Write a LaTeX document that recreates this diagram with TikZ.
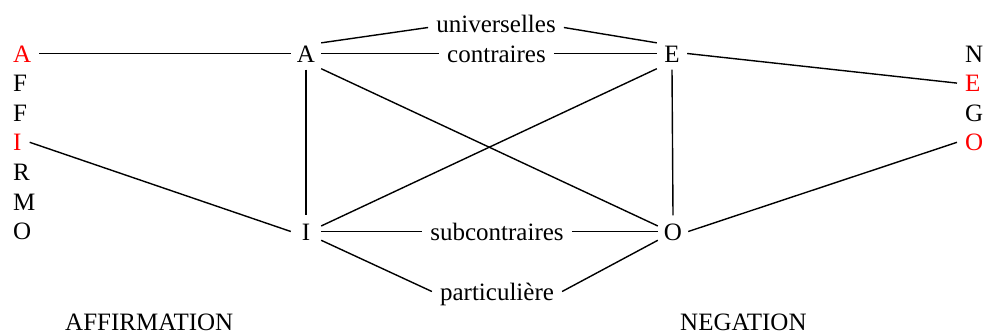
\documentclass[tikz,border=0pt]{standalone}
\usepackage{fontspec}
\setmainfont{Liberation Serif}
\begin{document}
\begin{tikzpicture}[x=1pt,y=-1pt,
  txt/.style={font=\fontsize{25}{30}\selectfont, text height=17pt, text depth=0pt, inner ysep=0pt},
  letter/.style={txt, inner xsep=8pt, anchor=base west},
  vert/.style={txt, rectangle, minimum width=30pt, minimum height=32pt, inner sep=0pt, anchor=base},
  lab/.style={txt, inner xsep=8pt, anchor=base},
  conn/.style={line width=1.4pt}]
\useasboundingbox (0,0) rectangle (984,335);
% left column
\node[letter, text=red] (lA) at (5,62) {A};
\node[letter] (lF1) at (5,91.6) {F};
\node[letter] (lF2) at (5,121.2) {F};
\node[letter, text=red] (lI) at (5,150.8) {I};
\node[letter] (lR) at (5,180.4) {R};
\node[letter] (lM) at (5,210) {M};
\node[letter] (lO) at (5,239.6) {O};
% right column
\node[letter] (rN) at (957,62) {N};
\node[letter, text=red] (rE) at (957,91.6) {E};
\node[letter] (rG) at (957,121.2) {G};
\node[letter, text=red] (rO) at (957,150.8) {O};
% vertices
\node[vert] (A) at (306,62) {A};
\node[vert] (E) at (672,62) {E};
\node[vert] (I) at (306,240) {I};
\node[vert] (O) at (673,240) {O};
% labels
\node[lab] (univ) at (496,32) {universelles};
\node[lab] (contr) at (496.5,62) {contraires};
\node[lab] (sub) at (497,240) {subcontraires};
\node[lab] (part) at (497,300) {particulière};
\node[txt, inner sep=0pt, anchor=base west] (aff) at (65,330) {AFFIRMATION};
\node[txt, inner sep=0pt, anchor=base west] (neg) at (680,330) {NEGATION};
% connectors
\draw[conn] (lA.east) -- (A.west);
\draw[conn] (lI.east) -- (I.west);
\draw[conn] (E.east) -- (rE.west);
\draw[conn] (O.east) -- (rO.west);
\draw[conn] (A.35) -- ([yshift=-4pt]univ.west);
\draw[conn] ([yshift=-4pt]univ.east) -- (E.145);
\draw[conn] (A.east) -- (contr.west);
\draw[conn] (contr.east) -- (E.west);
\draw[conn] (A.south) -- (I.north);
\draw[conn] (E.south) -- (O.north);
\draw[conn] (A.-45) -- (O.160);
\draw[conn] (E.-135) -- (I.20);
\draw[conn] (I.east) -- (sub.west);
\draw[conn] (sub.east) -- (O.west);
\draw[conn] (I.-30) -- (part.west);
\draw[conn] (part.east) -- (O.-150);
\end{tikzpicture}
\end{document}
